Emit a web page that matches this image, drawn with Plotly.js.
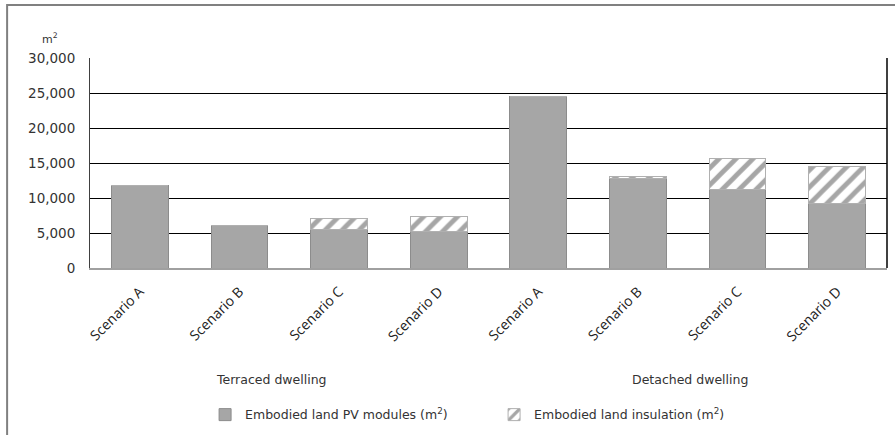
<!DOCTYPE html>
<html>
<head>
<meta charset="utf-8">
<script src="https://cdn.plot.ly/plotly-3.0.1.min.js"></script>
<style>html,body{margin:0;padding:0;background:#fff;}#chart{width:895px;height:435px;}</style>
</head>
<body>
<div id="chart"></div>
<script>
const scenarios = ['Scenario A','Scenario B','Scenario C','Scenario D','Scenario A','Scenario B','Scenario C','Scenario D'];
const groups = ['Terraced dwelling','Detached dwelling'];
const pvModules = [11800, 6100, 5450, 5200, 24500, 12750, 11150, 9250];
const insulation = [0, 0, 1650, 2150, 0, 300, 4550, 5300];
const yTicks = [0, 5000, 10000, 15000, 20000, 25000, 30000];

const xs = scenarios.map((_, i) => i);
const fontMain = '"DejaVu Sans", Lato, sans-serif';
const barGrey = '#a6a6a6';

const traces = [
  {type:'bar', x: xs, y: pvModules, name:'Embodied land PV modules (m<sup>2</sup>)',
   marker:{color:barGrey, line:{color:'#8c8c8c', width:1}}},
  {type:'bar', x: xs, y: insulation, name:'Embodied land insulation (m<sup>2</sup>)',
   marker:{color:'#ffffff', line:{color:'#b0b0b0', width:1},
     pattern:{shape:'/', fgcolor:barGrey, bgcolor:'#ffffff', size:12, solidity:0.4}}}
];

const layout = {
  width:895, height:435,
  margin:{l:90, r:8, t:58, b:167, autoexpand:false},
  barmode:'stack', bargap:0.43,
  paper_bgcolor:'#fff', plot_bgcolor:'#fff',
  showlegend:true,
  legend:{orientation:'h', x:0.507, xanchor:'center', yref:'container', y:0.046, yanchor:'middle',
    font:{family:fontMain, size:12.5, color:'#333'}, traceorder:'normal', entrywidth:244},
  xaxis:{tickmode:'array', tickvals:xs, ticktext:scenarios, tickangle:-45, automargin:false,
    range:[-0.5, 7.5], showgrid:false, zeroline:false, showline:true, linecolor:'#a0a0a0', linewidth:2,
    ticks:'', ticklabelstandoff:8, tickfont:{family:'"Open Sans", sans-serif', size:14, color:'#222'}},
  yaxis:{range:[0, 30000], tickvals:yTicks, tickformat:',', showgrid:true, gridcolor:'#000', gridwidth:1,
    automargin:false, zeroline:false, showline:true, linecolor:'#404040', linewidth:1, ticks:'', ticklabelstandoff:11,
    tickfont:{family:fontMain, size:13.5, color:'#333'}},
  annotations:[
    {xref:'paper', yref:'paper', x:-0.05, y:1.095, xanchor:'center', yanchor:'middle', text:'m<sup>2</sup>', showarrow:false,
     font:{family:fontMain, size:11, color:'#333'}},
    {xref:'paper', yref:'paper', x:0.228, y:-0.533, xanchor:'center', yanchor:'middle', text:groups[0], showarrow:false,
     font:{family:fontMain, size:12.5, color:'#333'}},
    {xref:'paper', yref:'paper', x:0.753, y:-0.533, xanchor:'center', yanchor:'middle', text:groups[1], showarrow:false,
     font:{family:fontMain, size:12.5, color:'#333'}}
  ],
  shapes:[
    {type:'line', xref:'paper', yref:'paper', x0:1, x1:1, y0:0, y1:1, line:{color:'#000', width:1.5}},
    {type:'rect', xref:'paper', yref:'paper', x0:-0.104, x1:1.06, y0:-0.85, y1:1.252,
     line:{color:'#808080', width:2}, fillcolor:'rgba(0,0,0,0)', layer:'below'}
  ]
};

Plotly.newPlot('chart', traces, layout, {staticPlot:true, displayModeBar:false});
</script>
</body>
</html>
